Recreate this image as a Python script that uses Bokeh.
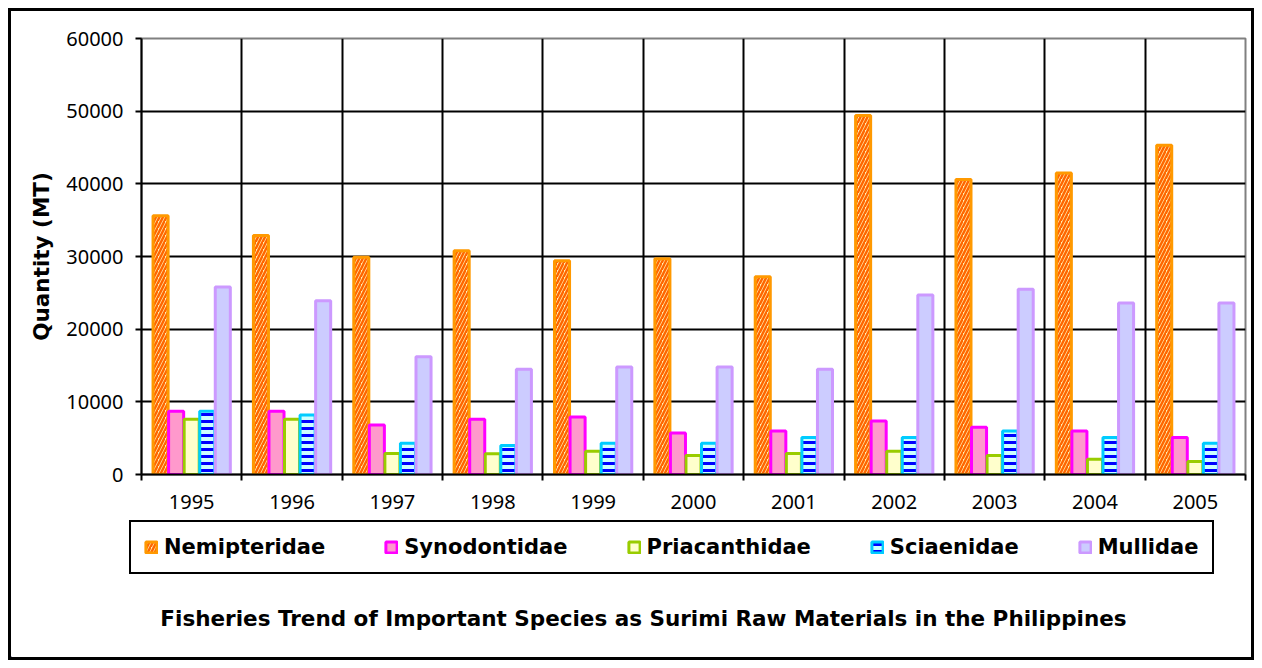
from bokeh.plotting import figure
from bokeh.models import Range1d, FixedTicker, Legend, LegendItem, Label
from bokeh.layouts import column
from bokeh.embed import file_html
from bokeh.resources import INLINE
import numpy as np

years = ["1995", "1996", "1997", "1998", "1999", "2000", "2001", "2002", "2003", "2004", "2005"]
species = ["Nemipteridae", "Synodontidae", "Priacanthidae", "Sciaenidae", "Mullidae"]
nemipteridae = [35600, 32900, 29900, 30800, 29400, 29700, 27200, 49400, 40600, 41500, 45300]
synodontidae = [8700, 8700, 6800, 7600, 7900, 5700, 6000, 7350, 6500, 6000, 5100]
priacanthidae = [7600, 7600, 2900, 2850, 3200, 2600, 2900, 3200, 2600, 2100, 1800]
sciaenidae = [8700, 8200, 4300, 4000, 4300, 4300, 5100, 5100, 6000, 5100, 4300]
mullidae = [25800, 23900, 16200, 14500, 14800, 14800, 14500, 24700, 25500, 23600, 23600]
y_ticks = [0, 10000, 20000, 30000, 40000, 50000, 60000]
y_label = "Quantity (MT)"
chart_title = "Fisheries Trend of Important Species as Surimi Raw Materials in the Philippines"

series = [nemipteridae, synodontidae, priacanthidae, sciaenidae, mullidae]
styles = [
    dict(fill_color="#FFF2B8", line_color="#FF9900", hatch_pattern="/", hatch_color="#FF6600", hatch_weight=2.5, hatch_scale=7),
    dict(fill_color="#FF99CC", line_color="#FF00FF"),
    dict(fill_color="#FFFFCC", line_color="#99CC00"),
    dict(fill_color="#CCFFFF", line_color="#00CCFF", hatch_pattern="-", hatch_color="#0000FF", hatch_weight=3, hatch_scale=7),
    dict(fill_color="#CCCCFF", line_color="#CC99FF"),
]

n = len(years)
centers = list(range(n))
bounds = [i - 0.5 for i in range(n + 1)]

W = 1240
H1 = 508
H2 = 646 - H1

p = figure(width=W, height=H1, output_backend="svg", toolbar_location=None,
           x_range=Range1d(-0.5, n - 0.5), y_range=Range1d(y_ticks[0], y_ticks[-1]),
           min_border_left=130, min_border_right=6, min_border_top=27, min_border_bottom=H1 - 463)
p.frame_align = False
p.background_fill_color = "white"
p.border_fill_color = "white"
p.outline_line_color = "#808080"
p.outline_line_width = 2

# bars
group_w = 0.155
renderers = []
for k, (vals, st) in enumerate(zip(series, styles)):
    xs = np.arange(n) + (k - 2) * group_w
    r = p.vbar(x=xs, top=vals, bottom=0, width=0.15, line_width=3, **st)
    renderers.append(r)

# x axis
xa = p.xaxis[0]
xa.ticker = FixedTicker(ticks=centers, minor_ticks=bounds)
xa.major_label_overrides = {i: y for i, y in enumerate(years)}
xa.major_tick_line_color = None
xa.major_tick_out = 0
xa.major_tick_in = 0
xa.minor_tick_out = 6
xa.minor_tick_in = 0
xa.minor_tick_line_color = "black"
xa.minor_tick_line_width = 2
xa.axis_line_color = "black"
xa.axis_line_width = 2
xa.major_label_standoff = 14
xa.major_label_text_font = "Noto Sans"
xa.major_label_text_font_size = "20px"
xa.major_label_text_color = "black"

# y axis
ya = p.yaxis[0]
ya.ticker = FixedTicker(ticks=y_ticks)
ya.major_tick_out = 6
ya.major_tick_in = 0
ya.major_tick_line_color = "black"
ya.major_tick_line_width = 2
ya.minor_tick_line_color = None
ya.axis_line_color = "black"
ya.axis_line_width = 2
ya.major_label_standoff = 12
ya.major_label_text_font = "Noto Sans"
ya.major_label_text_font_size = "20px"
ya.major_label_text_color = "black"
ya.axis_label = y_label
ya.axis_label_text_font = "DejaVu Sans"
ya.axis_label_text_font_style = "bold"
ya.axis_label_text_font_size = "21.5px"
ya.axis_label_text_color = "black"
ya.axis_label_standoff = 9

# grids
p.xgrid.ticker = FixedTicker(ticks=bounds[1:-1])
p.xgrid.grid_line_color = "black"
p.xgrid.grid_line_width = 2
p.ygrid.ticker = FixedTicker(ticks=y_ticks[1:-1])
p.ygrid.grid_line_color = "black"
p.ygrid.grid_line_width = 2

# lower strip: legend + title
p2 = figure(width=W, height=H2, output_backend="svg", toolbar_location=None,
            x_range=Range1d(0, W), y_range=Range1d(0, H2),
            x_axis_type=None, y_axis_type=None, min_border=0)
p2.frame_align = False
p2.outline_line_color = None
p2.background_fill_color = "white"
p2.border_fill_color = "white"
p2.grid.visible = False

# legend proxies (kept outside the visible range of the strip)
legend_renderers = [p2.vbar(x=[-1000], top=[0], width=1, line_width=3, **st) for st in styles]
legend = Legend(items=[LegendItem(label=s, renderers=[r]) for s, r in zip(species, legend_renderers)],
                location=(118, H2 - 55), orientation="horizontal", margin=0,
                label_text_font="DejaVu Sans", label_text_font_style="bold", label_text_font_size="21px",
                label_text_color="black",
                glyph_width=14, glyph_height=14, label_standoff=6, spacing=59, padding=13,
                border_line_color="black", border_line_width=2, border_line_alpha=1,
                background_fill_color="white", background_fill_alpha=1)
p2.add_layout(legend, "center")

title = Label(x=632, y=H2 - 99, text=chart_title, text_align="center", text_baseline="middle",
              text_font="DejaVu Sans", text_font_style="bold", text_font_size="21.5px", text_color="black")
p2.add_layout(title)

lay = column(p, p2, spacing=0, styles={"border": "3px solid black", "margin": "8px 0px 0px 8px"})

open("out.html", "w").write(file_html(lay, INLINE))
